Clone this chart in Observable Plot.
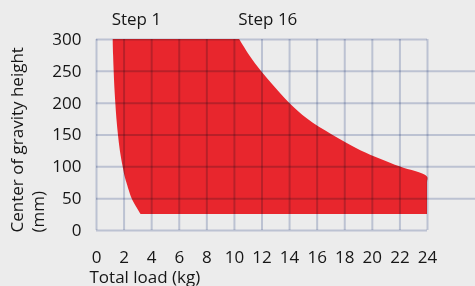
<!DOCTYPE html>
<html><head><meta charset="utf-8">
<script src="https://cdn.jsdelivr.net/npm/d3@7"></script>
<script src="https://cdn.jsdelivr.net/npm/@observablehq/plot@0.6"></script>
<style>html,body{margin:0;padding:0;background:#ececec;overflow:hidden;}</style>
</head><body><div id="chart"></div>
<script>
// Center of gravity height (mm) levels with left (Step 1) and right (Step 16) boundary loads (kg)
const heights   = [300, 275, 250, 225, 200, 175, 150, 125, 100, 84, 75, 50, 37, 25];
const leftLoad  = [1.21, 1.24, 1.28, 1.33, 1.40, 1.48, 1.59, 1.73, 1.93, 2.08, 2.2, 2.58, 2.9, 3.24];
const rightLoad = [10.38, 11.1, 11.95, 12.94, 14.0, 15.3, 17.1, 19.2, 22.0, 24, 24, 24, 24, 24];
const xTicks = [0, 2, 4, 6, 8, 10, 12, 14, 16, 18, 20, 22, 24];
const yTicks = [0, 50, 100, 150, 200, 250, 300];
const stepLabels = ["Step 1", "Step 16"];
const xLabel = "Total load (kg)";
const yLabel = "Center of gravity height\n(mm)";

const rows = heights.map((h, i) => ({h, lo: leftLoad[i], hi: rightLoad[i]}))
  .sort((a, b) => a.h - b.h);
const xMin = xTicks[0], xMax = xTicks[xTicks.length - 1];
const yMin = yTicks[0], yMax = yTicks[yTicks.length - 1];

const gridStroke = "#cbd2e3", gridWidth = 2;
const ink = "#161616";

const chart = Plot.plot({
  width: 475,
  height: 286,
  marginLeft: 96,
  marginRight: 48,
  marginTop: 39,
  marginBottom: 56,
  style: {background: "#ececec", fontFamily: "'Open Sans', sans-serif", fontSize: "17px", color: ink},
  x: {domain: [xMin, xMax], ticks: xTicks, tickSize: 0, tickPadding: 20, label: null, tickFormat: d => String(d)},
  y: {domain: [yMin, yMax], ticks: yTicks, tickSize: 0, tickPadding: 15, label: null, tickFormat: d => String(d)},
  marks: [
    Plot.areaX(rows, {y: "h", x1: "lo", x2: "hi", fill: "#e8262d", curve: "catmull-rom"}),
    Plot.ruleX(xTicks, {x: d => d, y1: () => yMin, y2: () => yMax, stroke: gridStroke, strokeWidth: gridWidth, mixBlendMode: "multiply"}),
    Plot.ruleY(yTicks, {y: d => d, x1: () => xMin, x2: d => (d === yMin || d === yMax) ? xMax : xMax + 6, stroke: gridStroke, strokeWidth: gridWidth, mixBlendMode: "multiply"}),
    Plot.text(stepLabels, {
      x: (d, i) => i === 0 ? leftLoad[0] : rightLoad[0],
      y: heights[0],
      text: d => d,
      textAnchor: "start", lineAnchor: "bottom", dx: -1.5, dy: -14.7, fill: ink
    }),
    Plot.text([yLabel], {
      frameAnchor: "bottom-left", rotate: -90, textAnchor: "start", lineAnchor: "middle",
      lineHeight: 1.235, dx: -70.2, dy: 2, fill: ink
    }),
    Plot.text([xLabel], {
      frameAnchor: "bottom-left", textAnchor: "start", lineAnchor: "bottom", dx: -7, dy: 52, fill: ink
    })
  ]
});
document.getElementById("chart").append(chart);
</script>
</body></html>
